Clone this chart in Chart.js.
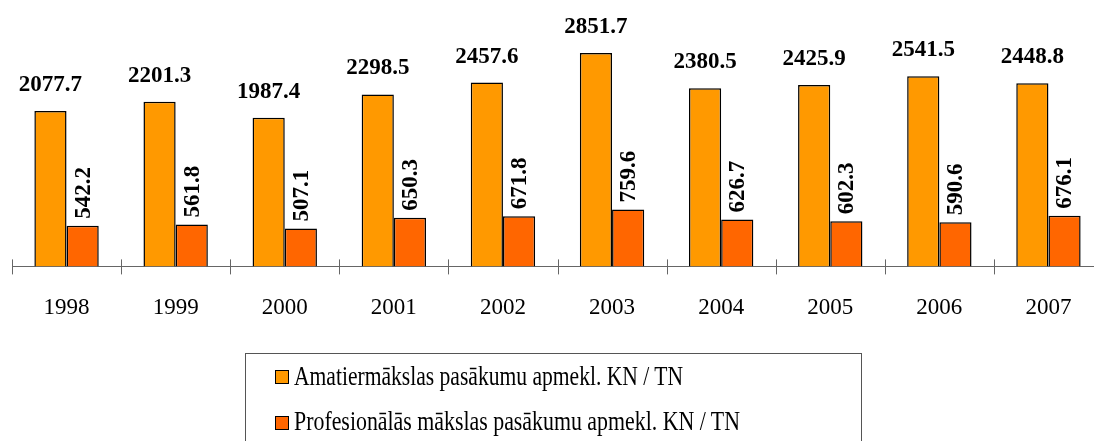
<!DOCTYPE html>
<html><head><meta charset="utf-8">
<script src="https://cdn.jsdelivr.net/npm/chart.js@4/dist/chart.umd.min.js"></script>
<style>
html,body{margin:0;padding:0;overflow:hidden;background:#fff;width:1094px;height:441px}
#wrap{position:relative;width:1094px;height:441px;overflow:hidden}
#c{position:absolute;left:0;top:0}
#legend{position:absolute;left:245px;top:353px;width:617px;height:120px;border:1px solid #555;box-sizing:border-box;font-family:'Liberation Serif',serif;color:#000}
.sw{position:absolute;width:12px;height:12px;border:1px solid #000}
.lt{position:absolute;left:48px;font-size:27px;line-height:27px;white-space:nowrap;transform-origin:0 0}
</style></head>
<body><div id="wrap">
<canvas id="c" width="1110" height="441"></canvas>
<div id="legend">
  <div class="sw" id="sw0" style="left:29px;top:16px"></div>
  <span class="lt" id="lt0" style="top:9px"></span>
  <div class="sw" id="sw1" style="left:29px;top:62px"></div>
  <span class="lt" id="lt1" style="top:54px"></span>
</div>
</div>
<script>
const categories = ['1998','1999','2000','2001','2002','2003','2004','2005','2006','2007'];
const seriesNames = ['Amatiermākslas pasākumu apmekl. KN / TN', 'Profesionālās mākslas pasākumu apmekl. KN / TN'];
const amateur = [2077.7, 2201.3, 1987.4, 2298.5, 2457.6, 2851.7, 2380.5, 2425.9, 2541.5, 2448.8];
const professional = [542.2, 561.8, 507.1, 650.3, 671.8, 759.6, 626.7, 602.3, 590.6, 676.1];
const colors = ['#FF9900', '#FF6600'];
const legendWidths = [389, 446];

// legend
for (let i = 0; i < 2; i++) {
  document.getElementById('sw' + i).style.background = colors[i];
  const el = document.getElementById('lt' + i);
  el.textContent = seriesNames[i];
}

const labelPlugin = {
  id: 'labels',
  afterDatasetsDraw(chart) {
    const ctx = chart.ctx;
    ctx.save();
    ctx.fillStyle = '#000';
    ctx.font = 'bold 23px "Liberation Serif"';
    chart.getDatasetMeta(0).data.forEach((bar, i) => {
      ctx.textAlign = 'center';
      ctx.textBaseline = 'alphabetic';
      ctx.fillText(amateur[i].toFixed(1), bar.x, bar.y - 20);
    });
    chart.getDatasetMeta(1).data.forEach((bar, i) => {
      ctx.save();
      ctx.translate(bar.x, bar.y - 7);
      ctx.rotate(-Math.PI / 2);
      ctx.textAlign = 'left';
      ctx.textBaseline = 'middle';
      ctx.fillText(professional[i].toFixed(1), 0, 1);
      ctx.restore();
    });
    ctx.restore();
  },
  afterDraw(chart) {
    const x = chart.scales.x;
    const ctx = chart.ctx;
    const y0 = chart.chartArea.bottom;
    const w = x.getPixelForValue(1) - x.getPixelForValue(0);
    const start = x.getPixelForValue(0) - w / 2;
    ctx.save();
    ctx.strokeStyle = '#666';
    ctx.lineWidth = 1;
    for (let i = 0; i <= categories.length; i++) {
      const px = Math.round(start + i * w) + 0.5;
      ctx.beginPath();
      ctx.moveTo(px, y0 - 7);
      ctx.lineTo(px, y0 + 8);
      ctx.stroke();
    }
    ctx.restore();
  }
};

new Chart(document.getElementById('c'), {
  type: 'bar',
  data: {
    labels: categories,
    datasets: [
      { label: seriesNames[0], data: amateur, backgroundColor: colors[0], borderColor: '#000', borderWidth: 1.5 },
      { label: seriesNames[1], data: professional, backgroundColor: colors[1], borderColor: '#000', borderWidth: 1.5 }
    ]
  },
  options: {
    responsive: false,
    animation: false,
    events: [],
    layout: { padding: { left: 12, right: 7, top: 42, bottom: 91 } },
    plugins: { legend: { display: false }, tooltip: { enabled: false } },
    datasets: { bar: { categoryPercentage: 0.59, barPercentage: 1.0 } },
    scales: {
      y: { display: false, min: 0, max: 3000 },
      x: {
        grid: { display: false, drawTicks: false },
        border: { display: true, color: '#666', width: 1 },
        ticks: { color: '#000', padding: 28, font: { family: 'Liberation Serif', size: 23 } }
      }
    }
  },
  plugins: [labelPlugin]
});

// fit legend text widths
for (let i = 0; i < 2; i++) {
  const el = document.getElementById('lt' + i);
  const wNow = el.getBoundingClientRect().width;
  el.style.transform = 'scaleX(' + (legendWidths[i] / wNow) + ')';
}
</script>
</body></html>
